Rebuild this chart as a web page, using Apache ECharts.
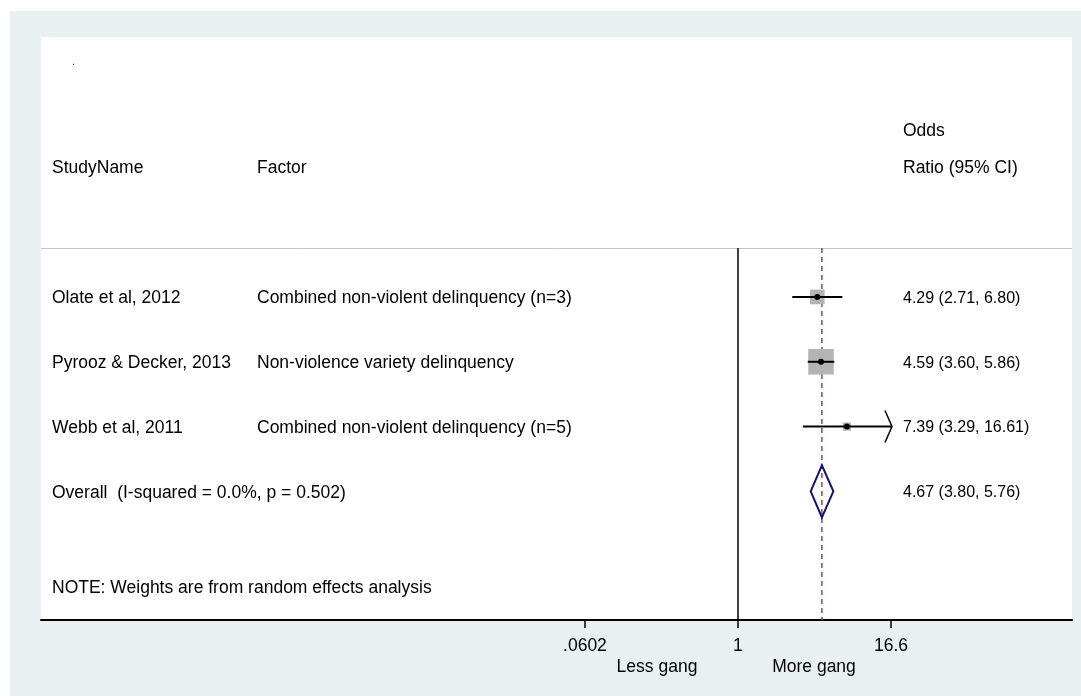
<!DOCTYPE html>
<html><head><meta charset="utf-8">
<script src="https://cdn.jsdelivr.net/npm/echarts@6/dist/echarts.min.js"></script>
<style>html,body{margin:0;padding:0;background:#fff}#c{width:1081px;height:696px}</style>
</head><body><div id="c"></div>
<script>
// ---- data ----
const studyNames = ['Olate et al, 2012', 'Pyrooz & Decker, 2013', 'Webb et al, 2011'];
const factors = ['Combined non-violent delinquency (n=3)', 'Non-violence variety delinquency', 'Combined non-violent delinquency (n=5)'];
const oddsRatios = [4.29, 4.59, 7.39];
const ciLower = [2.71, 3.60, 3.29];
const ciUpper = [6.80, 5.86, 16.61];
const weights = [23, 70, 7];
const overallLabel = 'Overall  (I-squared = 0.0%, p = 0.502)';
const overallOR = [4.67];
const overallLower = [3.80];
const overallUpper = [5.76];
const tickValues = [0.0602, 1, 16.6];
const tickLabels = ['.0602', '1', '16.6'];
const headerCols = ['StudyName', 'Factor', 'Ratio (95% CI)'];
const headerTop = 'Odds';
const noteText = 'NOTE: Weights are from random effects analysis';
const xAxisNames = ['Less gang', 'More gang'];

// ---- layout ----
const FONT = '"Liberation Sans", Arial, Helvetica, sans-serif';
const FS = 17.5;
const FS_OR = 16;
const L = Math.log10;
const axMin = L(tickValues[0]), axMax = L(tickValues[tickValues.length - 1]);
const Y_MIN = -3.012, Y_MAX = 5.985, SEP_ROW = 0.244;
const COL_X = [52, 257, 903];
const TXT_DY = 1.5;

const fmt = v => v.toFixed(2);
const orText = (e, l, u) => `${fmt(e)} (${fmt(l)}, ${fmt(u)})`;

const studyData = studyNames.map((n, i) => [L(oddsRatios[i]), L(ciLower[i]), L(ciUpper[i]), i + 1, weights[i]]);
const overallData = [[L(overallOR[0]), L(overallLower[0]), L(overallUpper[0]), studyNames.length + 1]];

function txt(s, x, y, fs) {
  return { type: 'text', style: { text: s, x: x, y: y, fill: '#000', fontSize: fs || FS, fontFamily: FONT, align: 'left', verticalAlign: 'middle' }, z2: 5 };
}

function renderStudy(params, api) {
  const i = params.dataIndex;
  const est = api.value(0), lo = api.value(1), hi = api.value(2), row = api.value(3), w = api.value(4);
  const p = api.coord([est, row]);
  const y = p[1];
  const xl = api.coord([Math.max(lo, axMin), row])[0];
  const xh = api.coord([Math.min(hi, axMax), row])[0];
  const s = 3.05 * Math.sqrt(w);
  const ch = [
    { type: 'rect', shape: { x: p[0] - s / 2, y: y - s / 2, width: s, height: s }, style: { fill: '#b4b4b4' }, z2: 1 },
    { type: 'line', shape: { x1: xl, y1: y, x2: xh, y2: y }, style: { stroke: '#000', lineWidth: 2 }, z2: 2 },
    { type: 'circle', shape: { cx: p[0], cy: y, r: 3 }, style: { fill: '#000' }, z2: 3 },
    txt(studyNames[i], COL_X[0], y + TXT_DY),
    txt(factors[i], COL_X[1], y + TXT_DY),
    txt(orText(oddsRatios[i], ciLower[i], ciUpper[i]), COL_X[2], y + TXT_DY, FS_OR)
  ];
  if (hi > axMax) ch.push({ type: 'polyline', shape: { points: [[xh - 6, y - 16], [xh + 1, y], [xh - 6, y + 16]] }, style: { stroke: '#000', lineWidth: 1.5, fill: null }, z2: 2 });
  if (lo < axMin) ch.push({ type: 'polyline', shape: { points: [[xl + 6, y - 16], [xl - 1, y], [xl + 6, y + 16]] }, style: { stroke: '#000', lineWidth: 1.5, fill: null }, z2: 2 });
  return { type: 'group', children: ch };
}

function renderOverall(params, api) {
  const est = api.value(0), lo = api.value(1), hi = api.value(2), row = api.value(3);
  const c = api.coord([est, row]);
  const y = c[1];
  const xl = api.coord([lo, row])[0], xh = api.coord([hi, row])[0];
  const top = api.coord([0, SEP_ROW])[1], bot = api.coord([0, Y_MAX])[1];
  const x1 = api.coord([0, row])[0];
  const hh = 26;
  return {
    type: 'group', children: [
      { type: 'line', shape: { x1: x1, y1: top, x2: x1, y2: bot }, style: { stroke: '#000', lineWidth: 1.5 }, z2: 0 },
      { type: 'line', shape: { x1: c[0], y1: top, x2: c[0], y2: bot }, style: { stroke: '#8b2a2a', lineWidth: 1.3, lineDash: [5, 4] }, z2: 0 },
      { type: 'polygon', shape: { points: [[xl, y], [c[0], y - hh], [xh, y], [c[0], y + hh]] }, style: { stroke: '#14146e', lineWidth: 2, fill: null }, z2: 4 },
      txt(overallLabel, COL_X[0], y + TXT_DY),
      txt(orText(overallOR[0], overallLower[0], overallUpper[0]), COL_X[2], y + TXT_DY, FS_OR)
    ]
  };
}

const chart = echarts.init(document.getElementById('c'));
const tickLog = tickValues.map(L);
chart.setOption({
  backgroundColor: '#ffffff',
  animation: false,
  textStyle: { fontFamily: FONT },
  graphic: [
    { type: 'rect', shape: { x: 10, y: 11, width: 1071, height: 685 }, style: { fill: '#e8f0f2' }, z: -20, silent: true },
    { type: 'rect', shape: { x: 41, y: 37, width: 1031, height: 583 }, style: { fill: '#ffffff' }, z: -19, silent: true },
    { type: 'line', shape: { x1: 41, y1: 248.5, x2: 1072, y2: 248.5 }, style: { stroke: '#c4c4c4', lineWidth: 1 }, z: -18, silent: true },
    { type: 'text', style: { text: '.', x: 72, y: 56, fontSize: 11, fontFamily: FONT, fill: '#333' }, z: 10 },
    { type: 'text', style: { text: headerTop, x: COL_X[2], y: 131, fontSize: FS, fontFamily: FONT, fill: '#000', verticalAlign: 'middle' }, z: 10 },
    { type: 'text', style: { text: headerCols[0], x: COL_X[0], y: 168.5, fontSize: FS, fontFamily: FONT, fill: '#000', verticalAlign: 'middle' }, z: 10 },
    { type: 'text', style: { text: headerCols[1], x: COL_X[1], y: 168.5, fontSize: FS, fontFamily: FONT, fill: '#000', verticalAlign: 'middle' }, z: 10 },
    { type: 'text', style: { text: headerCols[2], x: COL_X[2], y: 168.5, fontSize: FS, fontFamily: FONT, fill: '#000', verticalAlign: 'middle' }, z: 10 },
    { type: 'text', style: { text: noteText, x: COL_X[0], y: 588, fontSize: FS, fontFamily: FONT, fill: '#000', verticalAlign: 'middle' }, z: 10 },
    { type: 'text', style: { text: xAxisNames[0], x: 657, y: 667, fontSize: FS, fontFamily: FONT, fill: '#000', align: 'center', verticalAlign: 'middle' }, z: 10 },
    { type: 'text', style: { text: xAxisNames[1], x: 814, y: 667, fontSize: FS, fontFamily: FONT, fill: '#000', align: 'center', verticalAlign: 'middle' }, z: 10 }
  ],
  grid: { left: 41, right: 9, top: 37, height: 583, containLabel: false },
  xAxis: {
    type: 'value', min: -5.558, max: 2.6635, position: 'bottom',
    splitLine: { show: false },
    axisLine: { show: true, onZero: false, lineStyle: { color: '#000', width: 2 } },
    axisTick: { show: true, customValues: tickLog, length: 8, lineStyle: { color: '#000', width: 1.5 } },
    axisLabel: {
      show: true, customValues: tickLog, margin: 17, color: '#000', fontSize: FS, fontFamily: FONT,
      formatter: v => { const k = tickLog.findIndex(t => Math.abs(t - v) < 1e-6); return k >= 0 ? tickLabels[k] : ''; }
    }
  },
  yAxis: { type: 'value', inverse: true, min: Y_MIN, max: Y_MAX, show: false },
  series: [
    { type: 'custom', name: 'overall', z: 2, clip: false, renderItem: renderOverall, data: overallData },
    { type: 'custom', name: 'studies', z: 3, clip: false, renderItem: renderStudy, data: studyData }
  ]
});
</script></body></html>
